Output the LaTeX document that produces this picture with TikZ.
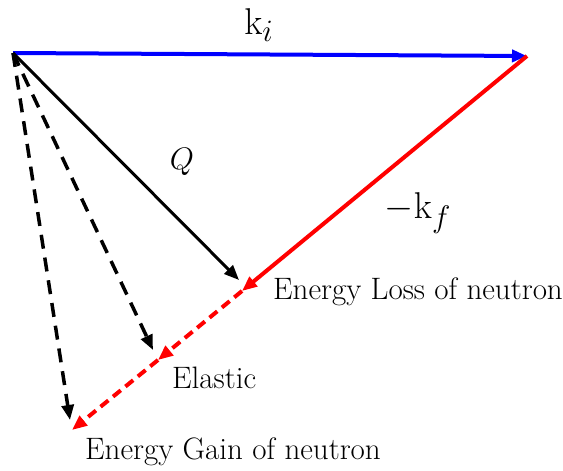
\documentclass[tikz,border=0pt]{standalone}
\usepackage{graphicx}
\usetikzlibrary{arrows.meta}
\begin{document}
\begin{tikzpicture}[x=1pt,y=-1pt,
  tip/.style={-{Triangle[length=15pt,width=12pt]}},
  bluevec/.style={draw={rgb,255:red,0;green,0;blue,255},line width=4pt,tip},
  redvec/.style={draw={rgb,255:red,255;green,0;blue,0},line width=4pt,tip},
  reddash/.style={redvec,dash pattern=on 10pt off 6pt},
  blackvec/.style={draw=black,line width=3pt,tip},
  blackdash/.style={draw=black,line width=3.5pt,tip,dash pattern=on 14pt off 9pt},
  lbl/.style={font=\fontsize{31}{36}\selectfont,inner sep=0pt},
  mlbl/.style={font=\fontsize{24.88}{30}\selectfont,inner sep=0pt}]
\useasboundingbox (0,0) rectangle (563,471);
\coordinate (O) at (13,53);
\coordinate (A) at (527,56);
\coordinate (L) at (242,291);
\coordinate (E) at (158,360);
\coordinate (G) at (72,430);
\coordinate (Lb) at (239,280);
\coordinate (Eb) at (153,350);
\coordinate (Gb) at (70,420);
\draw[bluevec] (O) -- (A);
\draw[redvec] (A) -- (L);
\draw[reddash] (L) -- (E);
\draw[reddash] (E) -- (G);
\draw[blackvec] (O) -- (Lb);
\draw[blackdash] (O) -- (Eb);
\draw[blackdash] (O) -- (Gb);
\node[mlbl] (ki) at (259,25) {\scalebox{1.5}{$\mathrm{k}_i$}};
\node[mlbl] (q) at (182,162) {\scalebox{1.25}{$Q$}};
\node[mlbl] (kf) at (418,213) {\scalebox{1.5}{$-\mathrm{k}_f$}};
\node[lbl,anchor=west] (loss) at (273,292) {Energy Loss of neutron};
\node[lbl,anchor=west] (el) at (172,378) {Elastic};
\node[lbl,anchor=west] (gain) at (85,452) {Energy Gain of neutron};
\end{tikzpicture}
\end{document}
